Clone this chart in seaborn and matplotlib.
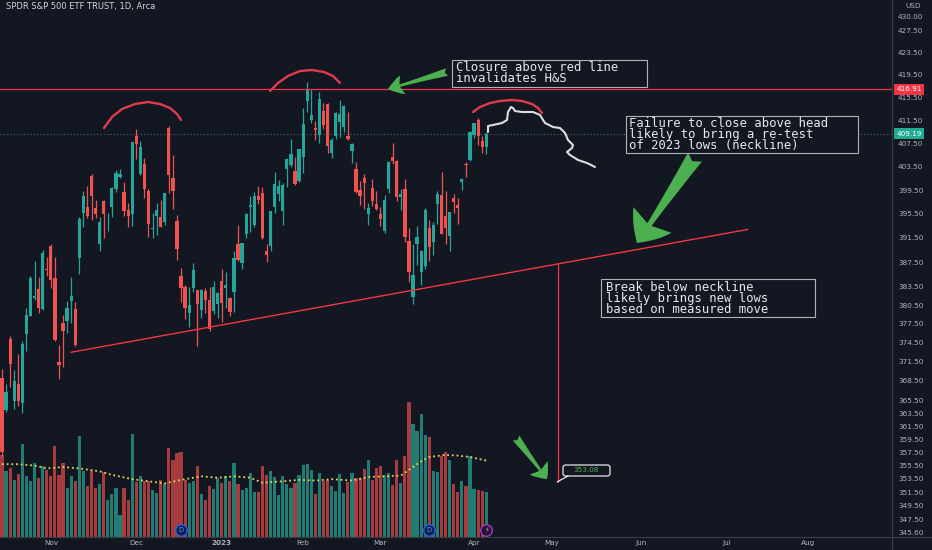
import matplotlib
matplotlib.use("Agg")
import numpy as np
import pandas as pd
import matplotlib.pyplot as plt
import matplotlib.transforms as mtransforms
from matplotlib.patches import Rectangle, FancyBboxPatch
from matplotlib.lines import Line2D
import seaborn as sns

# colours (TradingView dark)
BG = "#131722"
UP = "#26a69a"
DOWN = "#ef5350"
UP_VOL = "#1f7d74"
DOWN_VOL = "#a63c3e"
RED_LINE = "#f23645"
GREEN_ARROW = "#4caf50"
AXIS_TXT = "#b2b5be"

# ---- data: SPY daily ----
dates = ["2022-10-14", "2022-10-17", "2022-10-18", "2022-10-19", "2022-10-20", "2022-10-21",
         "2022-10-24", "2022-10-25", "2022-10-26", "2022-10-27", "2022-10-28", "2022-10-31",
         "2022-11-01", "2022-11-02", "2022-11-03", "2022-11-04", "2022-11-07", "2022-11-08",
         "2022-11-09", "2022-11-10", "2022-11-11", "2022-11-14", "2022-11-15", "2022-11-16",
         "2022-11-17", "2022-11-18", "2022-11-21", "2022-11-22", "2022-11-23", "2022-11-25",
         "2022-11-28", "2022-11-29", "2022-11-30",
         "2022-12-01", "2022-12-02", "2022-12-05", "2022-12-06", "2022-12-07", "2022-12-08",
         "2022-12-09", "2022-12-12", "2022-12-13", "2022-12-14", "2022-12-15", "2022-12-16",
         "2022-12-19", "2022-12-20", "2022-12-21", "2022-12-22", "2022-12-23", "2022-12-27",
         "2022-12-28", "2022-12-29", "2022-12-30",
         "2023-01-03", "2023-01-04", "2023-01-05", "2023-01-06", "2023-01-09", "2023-01-10",
         "2023-01-11", "2023-01-12", "2023-01-13", "2023-01-17", "2023-01-18", "2023-01-19",
         "2023-01-20", "2023-01-23", "2023-01-24", "2023-01-25", "2023-01-26", "2023-01-27",
         "2023-01-30", "2023-01-31",
         "2023-02-01", "2023-02-02", "2023-02-03", "2023-02-06", "2023-02-07", "2023-02-08",
         "2023-02-09", "2023-02-10", "2023-02-13", "2023-02-14", "2023-02-15", "2023-02-16",
         "2023-02-17", "2023-02-21", "2023-02-22", "2023-02-23", "2023-02-24", "2023-02-27",
         "2023-02-28",
         "2023-03-01", "2023-03-02", "2023-03-03", "2023-03-06", "2023-03-07", "2023-03-08",
         "2023-03-09", "2023-03-10", "2023-03-13", "2023-03-14", "2023-03-15", "2023-03-16",
         "2023-03-17", "2023-03-20", "2023-03-21", "2023-03-22", "2023-03-23", "2023-03-24",
         "2023-03-27", "2023-03-28", "2023-03-29", "2023-03-30", "2023-03-31",
         "2023-04-03", "2023-04-04", "2023-04-05", "2023-04-06"]

opens = [369.0, 364.0, 375.1, 365.4, 368.0, 365.1, 375.9, 378.8, 381.6, 383.1, 379.9, 386.4,
         390.1, 384.9, 371.5, 377.7, 377.9, 381.1, 379.9, 388.1, 395.6, 396.7, 401.9, 396.4,
         390.4, 397.7, 394.6, 396.6, 399.6, 401.8, 399.1, 396.1, 395.5,
         408.8, 402.3, 404.0, 399.4, 392.9, 395.1, 394.9, 394.1, 410.2, 401.6, 394.3, 385.2,
         383.5, 379.2, 383.3, 383.0, 379.7, 382.8, 381.3, 379.6, 380.6,
         384.4, 383.2, 381.7, 382.6, 390.4, 387.3, 392.2, 396.7, 393.6, 398.5, 399.0, 389.4,
         390.1, 396.7, 398.9, 396.0, 403.1, 403.7, 402.8, 401.1,
         405.2, 414.9, 411.6, 410.2, 408.9, 413.1, 414.4, 405.9, 408.7, 411.2, 410.4, 408.8,
         406.1, 403.1, 399.5, 401.6, 395.4, 399.9, 397.2,
         395.4, 392.7, 399.7, 405.1, 404.4, 398.4, 399.7, 391.0, 381.8, 390.5, 385.9, 386.8,
         393.2, 390.8, 397.2, 398.7, 395.1, 391.8, 398.1, 397.0, 400.8, 404.0, 404.7,
         408.9, 411.6, 407.9, 406.8]

highs = [370.3, 368.0, 375.5, 370.2, 372.7, 374.8, 380.1, 385.3, 387.6, 385.0, 389.5, 388.4,
         390.4, 388.3, 374.2, 378.9, 381.2, 385.1, 381.0, 395.0, 399.3, 400.2, 402.3, 397.8,
         395.0, 397.8, 395.6, 400.0, 402.9, 403.0, 400.8, 397.3, 407.7,
         410.0, 407.9, 404.9, 399.7, 395.6, 397.4, 397.9, 399.0, 410.5, 405.5, 395.3, 386.6,
         383.8, 383.4, 387.4, 383.0, 383.1, 383.2, 383.4, 384.4, 382.6,
         386.4, 385.9, 381.8, 389.3, 393.7, 390.7, 395.6, 398.5, 399.1, 400.2, 400.1, 390.5,
         396.0, 402.6, 401.2, 400.7, 404.9, 408.2, 405.1, 406.5,
         413.7, 418.3, 417.0, 411.3, 416.5, 414.5, 414.6, 408.4, 413.0, 415.1, 414.1, 412.9,
         407.5, 404.2, 401.1, 402.2, 397.3, 401.3, 399.3,
         396.7, 398.7, 404.5, 407.5, 404.7, 399.7, 401.4, 393.2, 390.4, 393.5, 389.5, 396.5,
         394.4, 394.2, 399.4, 402.5, 399.3, 395.8, 398.9, 398.2, 401.6, 404.2, 409.7,
         411.1, 411.9, 408.7, 409.5]

lows = [357.0, 363.6, 367.5, 364.1, 364.6, 363.5, 373.1, 378.7, 381.4, 379.3, 379.7, 385.3,
        383.3, 374.8, 368.8, 370.6, 376.0, 377.7, 373.9, 385.6, 393.3, 394.8, 394.5, 394.8,
        389.3, 391.4, 392.7, 395.0, 399.1, 401.5, 395.1, 393.3, 393.5,
        404.8, 402.1, 398.2, 391.6, 391.4, 392.0, 393.3, 393.6, 399.0, 396.3, 387.9, 381.0,
        378.3, 377.0, 382.7, 374.0, 378.4, 379.3, 376.4, 379.1, 378.4,
        377.8, 380.0, 378.8, 379.4, 387.7, 386.4, 391.4, 392.4, 393.3, 397.1, 391.3, 387.5,
        389.4, 395.7, 397.6, 393.6, 400.0, 403.4, 400.3, 400.8,
        402.4, 412.9, 411.1, 408.1, 407.6, 409.9, 405.8, 405.0, 408.2, 408.5, 409.5, 408.1,
        404.1, 399.0, 397.0, 396.3, 393.6, 396.8, 396.2,
        393.4, 392.3, 399.0, 404.0, 397.6, 396.2, 390.8, 384.3, 380.65, 387.1, 383.7, 386.3,
        387.6, 388.6, 393.8, 392.1, 390.4, 389.4, 395.6, 393.8, 399.5, 401.8, 404.5,
        408.4, 407.2, 405.9, 405.7]

closes = [357.6, 366.8, 371.1, 368.5, 365.4, 374.3, 378.9, 384.9, 382.0, 380.0, 389.0, 386.2,
          384.5, 374.9, 371.0, 376.4, 380.0, 382.0, 374.1, 394.7, 398.5, 395.1, 398.5, 395.5,
          394.2, 395.4, 394.6, 399.9, 402.4, 402.3, 395.9, 395.2, 407.7,
          407.4, 406.9, 399.6, 393.8, 393.2, 396.2, 393.3, 399.0, 402.0, 399.4, 389.6, 383.3,
          380.0, 380.5, 386.2, 380.7, 382.9, 381.4, 376.7, 383.4, 382.4,
          380.8, 383.8, 379.4, 388.1, 387.9, 390.6, 395.5, 397.0, 398.5, 397.8, 391.5, 388.6,
          395.9, 400.6, 400.2, 400.35, 404.75, 405.7, 400.6, 406.5,
          410.8, 416.8, 412.35, 409.8, 415.2, 410.65, 407.1, 408.0, 412.8, 412.6, 414.0, 408.3,
          407.3, 399.1, 398.5, 400.7, 396.4, 397.7, 396.3,
          394.7, 397.8, 404.2, 404.5, 398.3, 398.9, 391.6, 385.9, 385.4, 391.7, 389.3, 396.1,
          390.0, 393.7, 398.9, 392.1, 393.2, 395.75, 397.5, 396.5, 401.35, 403.7, 409.4,
          410.95, 408.7, 406.9, 409.19]

# volume, millions of shares
volumes = [115, 93, 97, 80, 88, 130, 86, 78, 103, 82,
           100, 94, 86, 127, 87, 103, 68, 85, 78, 141,
           93, 72, 93, 68, 74, 91, 52, 60, 68, 31,
           68, 52, 144, 77, 85, 78, 78, 66, 61, 80,
           74, 124, 108, 118, 119, 80, 75, 78, 100, 60,
           52, 72, 67, 82, 75, 86, 78, 104, 74, 66,
           69, 90, 63, 63, 100, 87, 92, 84, 59, 85,
           74, 69, 75, 87, 101, 102, 94, 60, 90, 78,
           80, 71, 64, 88, 62, 77, 89, 82, 83, 95,
           108, 80, 97, 100, 87, 90, 73, 108, 75, 113,
           189, 158, 149, 172, 143, 140, 93, 91, 113, 119,
           108, 74, 63, 78, 71, 113, 67, 66, 65, 63]

# volume moving average as drawn (bar index, millions)
ma_idx = [0, 4, 8, 11, 15, 19, 24, 27, 32, 36, 40, 44, 49, 53, 57, 61, 64, 69, 73, 77,
          81, 86, 90, 94, 98, 100, 103, 105, 109, 112, 115, 119]
ma_vol = [102, 102, 100, 96, 98, 96, 92, 87, 81, 78, 75, 80, 85, 83, 85, 83, 76, 78, 80, 79,
          81, 79, 84, 85, 86, 94, 106, 112, 115, 114, 112, 107]

month_idx = [12, 33, 54, 74, 93, 116, 135, 157, 178, 198]
month_labels = ["Nov", "Dec", "2023", "Feb", "Mar", "Apr", "May", "Jun", "Jul", "Aug"]

price_ticks = [430.0, 427.5, 423.5, 419.5, 415.5, 411.5, 407.5, 403.5, 399.5, 395.5, 391.5,
               387.5, 383.5, 380.5, 377.5, 374.5, 371.5, 368.5, 365.5, 363.5, 361.5, 359.5,
               357.5, 355.5, 353.5, 351.5, 349.5, 347.5, 345.6]

resistance = 416.91
last_price = 409.19
target = 353.08
neck_idx = [16.95, 183.3]
neck_price = [372.97, 392.9]
move_idx = 136.6
move_top = 387.2
event_idx = [44, 105, 119]
event_sym = ["D", "D", "\u26a1"]

assert len(dates) == len(opens) == len(highs) == len(lows) == len(closes) == len(volumes)

df = pd.DataFrame({"date": dates, "open": opens, "high": highs, "low": lows,
                   "close": closes, "volume": volumes})
df["i"] = np.arange(len(df))
df["up"] = df["close"] >= df["open"]

# ---- style ----
sns.set_theme(style="dark", rc={"axes.facecolor": BG, "figure.facecolor": BG,
                                "axes.grid": False, "savefig.facecolor": BG})
plt.rcParams["font.family"] = ["DejaVu Sans"]

W, H = 932, 550
fig = plt.figure(figsize=(W / 100, H / 100), dpi=100)
rect = [0, 13 / H, 892 / W, 537 / H]
ax_vol = fig.add_axes(rect)
ax = fig.add_axes(rect, sharex=ax_vol)
ax.patch.set_visible(False)
ax_vol.set_facecolor(BG)
# pixel coordinates of the 932x550 picture, origin top-left
PX = mtransforms.Affine2D().scale(1 / W, -1 / H).translate(0, 1) + fig.transFigure

# volume
vol_colors = np.where(df["up"], UP_VOL, DOWN_VOL)
ax_vol.bar(df["i"], df["volume"], width=0.78, color=vol_colors, linewidth=0)
sns.lineplot(x=ma_idx, y=ma_vol, ax=ax_vol, color="#e6d35a", lw=1.3,
             linestyle=(0, (1, 1.6)))
ax_vol.set_ylim(0, 752)
ax_vol.set_yticks([])
ax_vol.set_xlabel("")
ax_vol.set_ylabel("")
ax_vol.tick_params(axis="x", labelbottom=False, length=0)

# candles
colors = np.where(df["up"], UP, DOWN)
ax.vlines(df["i"], df["low"], df["high"], colors=colors, linewidth=0.9, zorder=3)
body_lo = np.minimum(df["open"], df["close"])
body_h = np.maximum((df["close"] - df["open"]).abs(), 0.12)
ax.bar(df["i"], body_h, bottom=body_lo, width=0.8, color=colors, linewidth=0, zorder=4)

ax.set_yscale("log")
ax.set_ylim(344.9, 433.0)
ax.set_xlim(-0.49, 218.7)
ax.yaxis.set_minor_locator(matplotlib.ticker.NullLocator())
ax.set_yticks(price_ticks)
ax.set_yticklabels([f"{p:.2f}" for p in price_ticks])
ax.yaxis.tick_right()
ax.tick_params(axis="y", length=0, pad=4.3, labelsize=5.2, labelcolor=AXIS_TXT)
ax.set_xticks(month_idx)
ax.set_xticklabels(month_labels)
ax.tick_params(axis="x", length=0, pad=2.5, labelsize=5.2, labelcolor=AXIS_TXT)
for lab in ax.get_xticklabels():
    if lab.get_text() == "2023":
        lab.set_fontweight("bold")
for a in (ax, ax_vol):
    for s in a.spines.values():
        s.set_visible(False)

# price lines
ax.axhline(resistance, color=RED_LINE, lw=0.9, zorder=5)
ax.axhline(last_price, color="#3f6e69", lw=0.8, linestyle=(0, (1, 2)), zorder=2)
ax.plot(neck_idx, neck_price, color=RED_LINE, lw=1.0, zorder=5)
ax.plot([move_idx, move_idx], [move_top, target], color=RED_LINE, lw=0.9, zorder=5)

blend_y = mtransforms.blended_transform_factory(ax.transAxes, ax.transData)
ax.text(1.005, resistance, "416.91", transform=blend_y, ha="left", va="center",
        fontsize=5.2, color="white", clip_on=False, zorder=10,
        bbox=dict(boxstyle="square,pad=0.35", fc=RED_LINE, ec="none"))
ax.text(1.005, last_price, "409.19", transform=blend_y, ha="left", va="center",
        fontsize=5.2, color="white", clip_on=False, zorder=10,
        bbox=dict(boxstyle="square,pad=0.35", fc="#22ab94", ec="none"))

# measured-move label
ax.add_patch(FancyBboxPatch((563, 465), 47, 11, boxstyle="round,pad=0,rounding_size=2.5",
                            transform=PX, fc=BG, ec="white", lw=0.8, zorder=6))
ax.plot([557, 568], [482, 476], transform=PX, color="white", lw=0.8, zorder=6)
ax.text(586.5, 470.5, "353.08", transform=PX, ha="center", va="center",
        fontsize=5.2, color="#4caf50", zorder=7)

# hand-drawn strokes
left_arc = [(104, 128), (112, 117), (122, 109), (135, 104), (148, 102), (160, 104),
            (170, 108), (177, 114), (181, 120)]
head_arc = [(270, 91), (278, 83), (288, 76), (300, 71), (312, 70), (324, 72),
            (333, 76), (340, 83)]
right_arc = [(473, 112), (480, 107), (490, 103), (500, 101), (512, 100), (522, 101),
             (532, 104), (538, 108), (542, 113)]
squiggle = [(488, 132), (488, 126), (493, 125), (502, 123), (507, 120), (508, 112),
            (511, 107), (513, 108), (515, 111), (522, 112), (533, 112), (540, 115),
            (545, 123), (553, 127), (560, 128), (565, 133), (568, 140), (573, 145),
            (572, 148), (567, 152), (570, 155), (578, 160), (587, 163), (595, 167)]
for stroke in (left_arc, head_arc, right_arc):
    xs, ys = zip(*stroke)
    ax.plot(xs, ys, transform=PX, color="#e23a4e", lw=1.7, solid_capstyle="round",
            clip_on=False, zorder=6)
xs, ys = zip(*squiggle)
ax.plot(xs, ys, transform=PX, color="#dcdde0", lw=1.5, solid_capstyle="round",
        solid_joinstyle="round", clip_on=False, zorder=6)

# green arrows
arrows = [((447, 72), (388, 89), 10, "fancy,head_length=1.1,head_width=1.4,tail_width=0.55"),
          ((695, 157), (637, 243), 20, "fancy,head_length=1.0,head_width=1.65,tail_width=0.6"),
          ((516, 438), (547, 479), 10, "fancy,head_length=1.0,head_width=1.6,tail_width=0.6")]
for tail, tip, ms, style in arrows:
    ax.annotate("", xy=tip, xycoords=PX, xytext=tail, textcoords=PX,
                arrowprops=dict(arrowstyle=style, mutation_scale=ms, color=GREEN_ARROW,
                                shrinkA=0, shrinkB=0, lw=0), zorder=7)

# text boxes: (left, top, width, height), text left, text centre y, text
boxes = [((452, 60, 195, 27), 456, 73.0,
          "Closure above red line\ninvalidates H&S"),
         ((626, 116, 232, 37), 629, 134.3,
          "Failure to close above head\nlikely to bring a re-test\nof 2023 lows (neckline)"),
         ((601, 279, 214, 38), 605.5, 298.5,
          "Break below neckline\nlikely brings new lows\nbased on measured move")]
for (bx, by, bw, bh), tx, ty, txt in boxes:
    ax.add_patch(Rectangle((bx, by), bw, bh, transform=PX, fc=BG, ec="#aeb2ba", lw=0.8,
                           clip_on=False, zorder=8))
    ax.text(tx, ty, txt, transform=PX, ha="left", va="center", fontsize=8.8,
            linespacing=0.78, family="DejaVu Sans Mono", color="#e6e8ee", zorder=9)

# event icons
blend_x = mtransforms.blended_transform_factory(ax.transData, ax.transAxes)
for ei, sym in zip(event_idx, event_sym):
    edge, face, tc = ("#2f5fe0", "#10204f", "#6f95ff") if sym == "D" else ("#9c3fb8", "#2b1238", "#d59be6")
    ax.scatter([ei], [0.013], s=70, marker="o", transform=blend_x, facecolor=face,
               edgecolor=edge, linewidth=1.0, clip_on=False, zorder=8)
    ax.text(ei, 0.013, sym, transform=blend_x, ha="center", va="center", fontsize=4.8,
            color=tc, family=["DejaVu Sans", "Noto Sans CJK SC"], zorder=9)

# frame lines and header
fig.add_artist(Line2D([892 / W, 892 / W], [0, 1], transform=fig.transFigure,
                      color="#3a3e49", lw=0.8))
fig.add_artist(Line2D([0, 1], [13 / H, 13 / H], transform=fig.transFigure,
                      color="#3a3e49", lw=0.8))
fig.text(6 / W, 1 - 7 / H, "SPDR S&P 500 ETF TRUST, 1D, Arca", ha="left", va="center",
         fontsize=6, color="#d1d4dc")
fig.text(905 / W, 1 - 6 / H, "USD", ha="left", va="center", fontsize=5.2, color=AXIS_TXT)

fig.savefig("out.png", dpi=100, facecolor=BG)
